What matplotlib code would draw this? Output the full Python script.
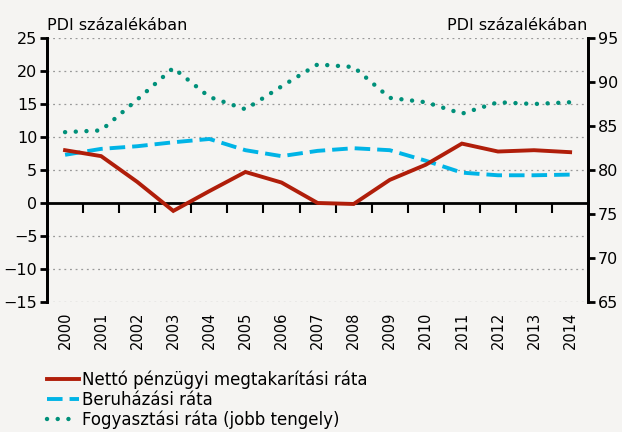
import matplotlib.pyplot as plt
from matplotlib.lines import Line2D

years = [str(y) for y in range(2000, 2015)]
netto = [8.0, 7.1, 3.2, -1.2, 1.8, 4.7, 3.1, 0.0, -0.15, 3.5, 5.8, 9.0, 7.8, 8.0, 7.7]
beruhazas = [7.3, 8.2, 8.6, 9.2, 9.7, 8.0, 7.1, 7.9, 8.3, 8.0, 6.4, 4.6, 4.2, 4.2, 4.3]
fogyasztas = [84.3, 84.5, 88.0, 91.6, 88.3, 86.9, 89.5, 92.0, 91.7, 88.2, 87.7, 86.4, 87.7, 87.5, 87.7]

BG = '#f5f4f2'
RED = '#b01e0a'
CYAN = '#00b4e6'
TEAL = '#00907a'

plt.rcParams['font.family'] = ['DejaVu Sans']

fig = plt.figure(figsize=(6.22, 4.32), dpi=100, facecolor=BG)
ax = fig.add_axes([0.0756, 0.301, 0.87, 0.611])
ax.set_facecolor(BG)
ax2 = ax.twinx()

x = list(range(len(years)))
ax.plot(x, netto, color=RED, lw=2.8, solid_joinstyle='miter', zorder=4)
ax.plot(x, beruhazas, color=CYAN, lw=2.8, dashes=(4, 1.8), zorder=3)
ax2.plot(x, fogyasztas, color=TEAL, lw=3.2, dashes=(0.01, 2.4), dash_capstyle='round', zorder=3)

ax.set_xlim(-0.5, len(years) - 0.5)
ax.set_ylim(-15, 25)
ax2.set_ylim(65, 95)
ax.set_yticks(range(-15, 26, 5))
ax2.set_yticks(range(65, 96, 5))
ax.set_yticklabels([str(v).replace('-', '\u2212') for v in range(-15, 26, 5)])

for v in range(-15, 26, 5):
    if v != 0:
        ax.axhline(v, color='#999999', lw=0.9, ls=(0, (1.5, 3)), zorder=1)

ax.set_xticks(x)
ax.set_xticklabels(years, rotation=90, fontsize=10.5)
ax.tick_params(axis='x', length=0, pad=7)
ax.tick_params(axis='y', labelsize=11.5, width=2, length=5, pad=2)
ax2.tick_params(axis='y', labelsize=11.5, width=2, length=5, pad=2)

for a in (ax, ax2):
    a.spines['top'].set_visible(False)
    a.spines['bottom'].set_visible(False)
    a.spines['left'].set_linewidth(2)
    a.spines['right'].set_linewidth(2)

# zero line with category boundary ticks
sec = ax.secondary_xaxis(15 / 40)
sec.set_xticks([i - 0.5 for i in range(1, len(years))])
sec.set_xticklabels([])
sec.tick_params(axis='x', length=7, width=1.5, direction='out')
sec.spines['bottom'].set_linewidth(2)
sec.spines['top'].set_visible(False)

fig.text(0.076, 0.9306, 'PDI százalékában', fontsize=11.5, ha='left', va='baseline')
fig.text(0.945, 0.9306, 'PDI százalékában', fontsize=11.5, ha='right', va='baseline')

handles = [
    Line2D([], [], color=RED, lw=2.8),
    Line2D([], [], color=CYAN, lw=2.8, dashes=(4, 1.8)),
    Line2D([], [], color=TEAL, lw=3.2, dashes=(0.01, 2.4), dash_capstyle='round'),
]
labels = ['Nettó pénzügyi megtakarítási ráta', 'Beruházási ráta', 'Fogyasztási ráta (jobb tengely)']
fig.legend(handles, labels, loc='upper left', bbox_to_anchor=(0.0756, 0.142), frameon=False,
           fontsize=12, handlelength=1.9, handletextpad=0.2, labelspacing=0.1,
           borderaxespad=0, borderpad=0)

fig.savefig('out.png', dpi=100, facecolor=BG)
